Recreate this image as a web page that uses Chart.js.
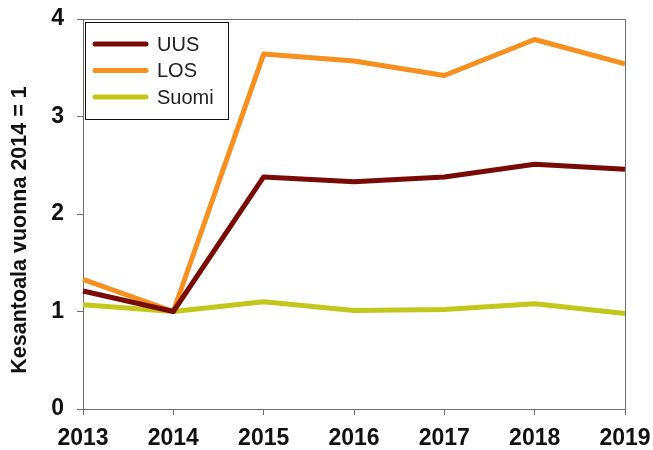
<!DOCTYPE html>
<html lang="fi">
<head>
  <meta charset="UTF-8">
  <title>Kesantoala</title>
  <script src="https://cdn.jsdelivr.net/npm/chart.js"></script>
  <style>
    body { margin: 0; background: #fff; }
    #wrap { width: 653px; height: 450px; }
  </style>
</head>
<body>
  <div id="wrap">
    <canvas id="myChart" width="653" height="450"></canvas>
  </div>

  <script>
  // data
  const years = ['2013', '2014', '2015', '2016', '2017', '2018', '2019'];
  const uus = [1.21, 1.0, 2.38, 2.33, 2.38, 2.51, 2.46];
  const los = [1.33, 1.0, 3.64, 3.57, 3.42, 3.79, 3.54];
  const suomi = [1.07, 1.0, 1.10, 1.01, 1.02, 1.08, 0.98];
  const yTicks = [0, 1, 2, 3, 4];
  const yTitle = 'Kesantoala vuonna 2014 = 1';

  const axisColor = '#6e6e6e';
  const fontFamily = 'Liberation Sans, Arial, sans-serif';
  const tickFont = { family: fontFamily, size: 23, weight: 'bold' };

  // frame on top and right, y title, legend box inside the plot
  const framePlugin = {
    id: 'frame',
    afterDraw(chart) {
      const ctx = chart.ctx;
      const a = chart.chartArea;
      ctx.save();
      ctx.strokeStyle = axisColor;
      ctx.lineWidth = 1;
      ctx.beginPath();
      ctx.moveTo(a.left, a.top + 0.5);
      ctx.lineTo(a.right + 0.5, a.top + 0.5);
      ctx.lineTo(a.right + 0.5, a.bottom);
      ctx.stroke();

      // rotated y title
      ctx.save();
      ctx.translate(20, 230);
      ctx.rotate(-Math.PI / 2);
      ctx.font = 'bold 21.5px ' + fontFamily;
      ctx.fillStyle = '#111';
      ctx.textAlign = 'center';
      ctx.textBaseline = 'middle';
      ctx.fillText(yTitle, 0, 0);
      ctx.restore();

      // legend
      const bx = a.left + 2, by = a.top + 3, bw = 143, bh = 97;
      ctx.fillStyle = '#fff';
      ctx.fillRect(bx, by, bw, bh);
      ctx.strokeStyle = '#111';
      ctx.lineWidth = 1;
      ctx.strokeRect(bx + 0.5, by + 0.5, bw, bh);
      ctx.font = '20px ' + fontFamily;
      ctx.textBaseline = 'middle';
      chart.data.datasets.forEach((ds, i) => {
        const y = by + 22 + i * 26.5;
        ctx.strokeStyle = ds.borderColor;
        ctx.lineWidth = 5;
        ctx.lineCap = 'round';
        ctx.beginPath();
        ctx.moveTo(bx + 10, y);
        ctx.lineTo(bx + 61, y);
        ctx.stroke();
        ctx.fillStyle = '#222';
        ctx.fillText(ds.label, bx + 72, y + 1);
      });
      ctx.restore();
    }
  };

  const config = {
    type: 'line',
    data: {
      labels: years,
      datasets: [
        { label: 'UUS', data: uus, borderColor: '#7a0a06' },
        { label: 'LOS', data: los, borderColor: '#f7901e' },
        { label: 'Suomi', data: suomi, borderColor: '#c3c71c' }
      ].map(ds => Object.assign(ds, {
        borderWidth: 5,
        pointRadius: 0,
        tension: 0,
        fill: false,
        borderJoinStyle: 'round',
        borderCapStyle: 'butt'
      }))
    },
    options: {
      responsive: false,
      animation: false,
      layout: { padding: { top: 19, right: 28, left: 0, bottom: 0 } },
      plugins: {
        legend: { display: false },
        tooltip: { enabled: false }
      },
      scales: {
        x: {
          offset: false,
          grid: { drawOnChartArea: false, tickLength: 6, color: axisColor },
          border: { color: axisColor },
          ticks: { color: '#111', font: tickFont, padding: 10, maxRotation: 0, autoSkip: false },
          afterFit(scale) {
            scale.height = 41;
            // labels may overflow the plot edges, keep the layout from shrinking
            scale.paddingLeft = 0;
            scale.paddingRight = 0;
          }
        },
        y: {
          min: 0,
          max: 4,
          afterBuildTicks(scale) { scale.ticks = yTicks.map(v => ({ value: v })); },
          grid: { drawOnChartArea: false, tickLength: 6, color: axisColor },
          border: { color: axisColor },
          ticks: { color: '#111', font: tickFont, padding: 13 },
          afterFit(scale) {
            scale.width = 83;
            scale.paddingTop = 0;
            scale.paddingBottom = 0;
          }
        }
      }
    },
    plugins: [framePlugin]
  };

  new Chart(document.getElementById('myChart'), config);
  </script>
</body>
</html>
